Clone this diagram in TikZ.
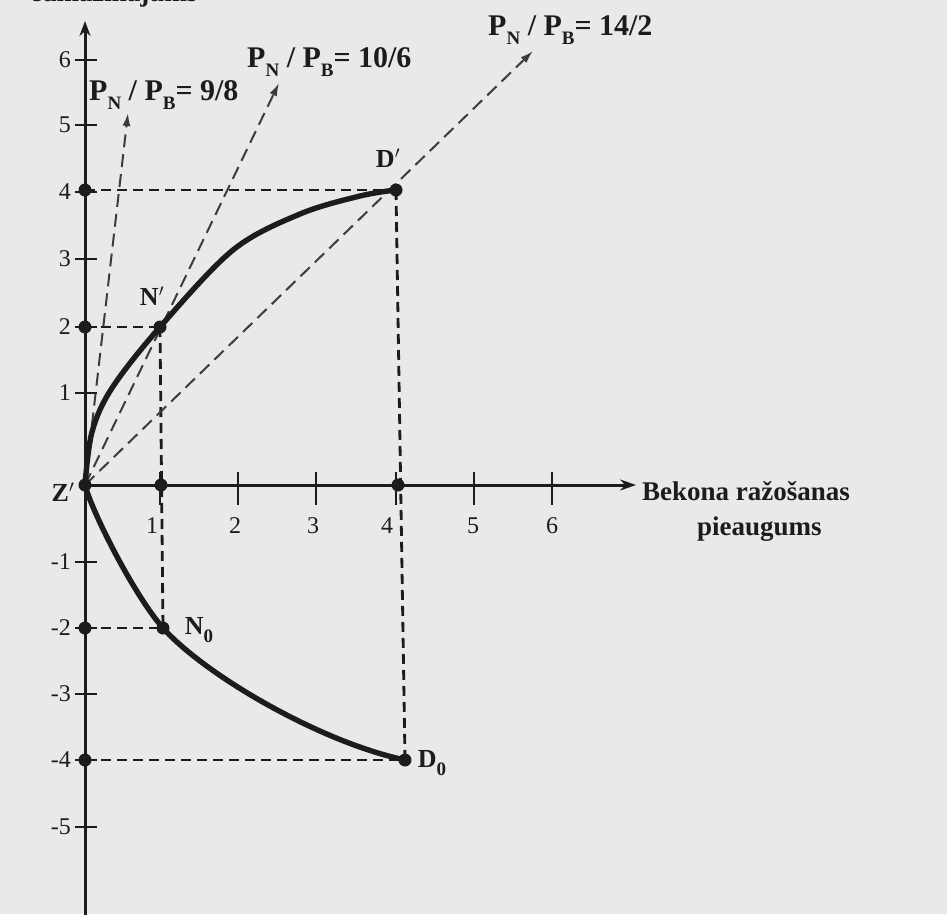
\documentclass[tikz,border=0pt]{standalone}
\usepackage{fontspec}
\setmainfont{Liberation Serif}
\usetikzlibrary{arrows.meta}
\definecolor{paper}{RGB}{233,233,231}
\definecolor{ink}{RGB}{28,28,28}
\definecolor{rayc}{RGB}{60,60,60}
\newcommand{\lsub}[1]{\raisebox{-0.3em}{\fontsize{19}{19}\selectfont #1}}
\begin{document}
\begin{tikzpicture}[x=1pt,y=-1pt,
  axisline/.style={draw=ink,line width=3pt},
  guide/.style={draw=ink,line width=2.8pt,dash pattern=on 10pt off 6pt},
  ray/.style={draw=rayc,line width=2pt,dash pattern=on 13pt off 7pt,-{Latex[length=13pt,width=8pt]}},
  curveline/.style={draw=ink,line width=5.4pt,line cap=round},
  dotc/.style={circle,fill=ink,inner sep=0pt,minimum size=13pt},
  tickline/.style={draw=ink,line width=2.2pt},
  ticklab/.style={font=\fontsize{24}{24}\selectfont,text=ink,inner sep=0pt},
  ptlab/.style={font=\bfseries\fontsize{26}{26}\selectfont,text=ink,inner sep=0pt},
  ratio/.style={font=\bfseries\fontsize{30}{30}\selectfont,text=ink,inner sep=0pt,anchor=base west},
  axlab/.style={font=\bfseries\fontsize{27}{27}\selectfont,text=ink,inner sep=0pt,anchor=base west}
]
\fill[paper] (0,0) rectangle (947,914);
\useasboundingbox (0,0) rectangle (947,914);

% cut-off axis title at the very top
\node[font=\bfseries\fontsize{27}{27}\selectfont,text=ink,inner sep=0pt,anchor=base] (ytitle) at (115,1) {samazinājums};

% key points
\coordinate (Z) at (85,485);
\coordinate (Ytop) at (85,21);
\coordinate (Ybot) at (85,930);
\coordinate (Xend) at (636,485);
\coordinate (Dp) at (396,190);
\coordinate (Np) at (160,327);
\coordinate (N0) at (163,628);
\coordinate (D0) at (405,760);
\coordinate (Y4) at (85,190);
\coordinate (Y2) at (85,327);
\coordinate (Ym2) at (85,628);
\coordinate (Ym4) at (85,760);
\coordinate (X1) at (161,485);
\coordinate (X4) at (398,485);
\coordinate (R1) at (128,113);
\coordinate (R2) at (279,83);
\coordinate (R3) at (533,51);

% guide lines
\draw[guide] (Y4) -- (Dp);
\draw[guide] (Dp) -- (D0);
\draw[guide] (Ym4) -- (D0);
\draw[guide] (Y2) -- (Np);
\draw[guide] (Np) -- (N0);
\draw[guide] (Ym2) -- (N0);

% price ratio rays
\draw[ray] (Z) -- (R1);
\draw[ray] (Z) -- (R2);
\draw[ray] (Z) -- (R3);

% offer curves
\draw[curveline] plot[smooth,tension=0.55] coordinates {(Z) (92,432) (112,388) (Np) (233,250) (300,214) (360,196) (Dp)};
\draw[curveline] (Z) .. controls (92,512) and (134,595) .. (N0)
                     .. controls (205,675) and (320,742) .. (D0);

% axes
\draw[axisline,-{Stealth[length=15pt,width=11pt]}] (Ybot) -- (Ytop);
\draw[axisline,-{Stealth[length=16pt,width=11pt]}] (Z) -- (Xend);

% ticks on y
\foreach \y/\l in {60/6,125/5,192/4,259/3,327/2,393/1,562/-1,628/-2,694/-3,760/-4,827/-5}{
  \draw[tickline] (75,\y) -- (97,\y);
  \node[ticklab,anchor=east] (ty\y) at (71,\y) {\l};
}
% ticks on x
\foreach \x/\lx/\l in {160/152/1,238/235/2,316/313/3,396/387/4,474/473/5,552/552/6}{
  \draw[tickline] (\x,472) -- (\x,505);
  \node[ticklab] (tx\l) at (\lx,526) {\l};
}

% dots
\foreach \p in {Z,Y4,Y2,Ym2,Ym4,X1,X4,Np,Dp,N0,D0}{
  \node[dotc] (dot\p) at (\p) {};
}

% point labels
\node[ptlab] (lZ) at (63,492) {Z$'$};
\node[ptlab] (lNp) at (152,296) {N$'$};
\node[ptlab] (lDp) at (388,158) {D$'$};
\node[ptlab] (lN0) at (199,630) {N\lsub{0}};
\node[ptlab] (lD0) at (432,763) {D\lsub{0}};

% ratio labels
\node[ratio] (r98) at (89,100) {P\lsub{N} / P\lsub{B}= 9/8};
\node[ratio] (r106) at (247,67) {P\lsub{N} / P\lsub{B}= 10/6};
\node[ratio] (r142) at (488,35) {P\lsub{N} / P\lsub{B}= 14/2};

% x axis title
\node[axlab] (xt1) at (642,500) {Bekona ražošanas};
\node[axlab] (xt2) at (697,535) {pieaugums};
\end{tikzpicture}
\end{document}
